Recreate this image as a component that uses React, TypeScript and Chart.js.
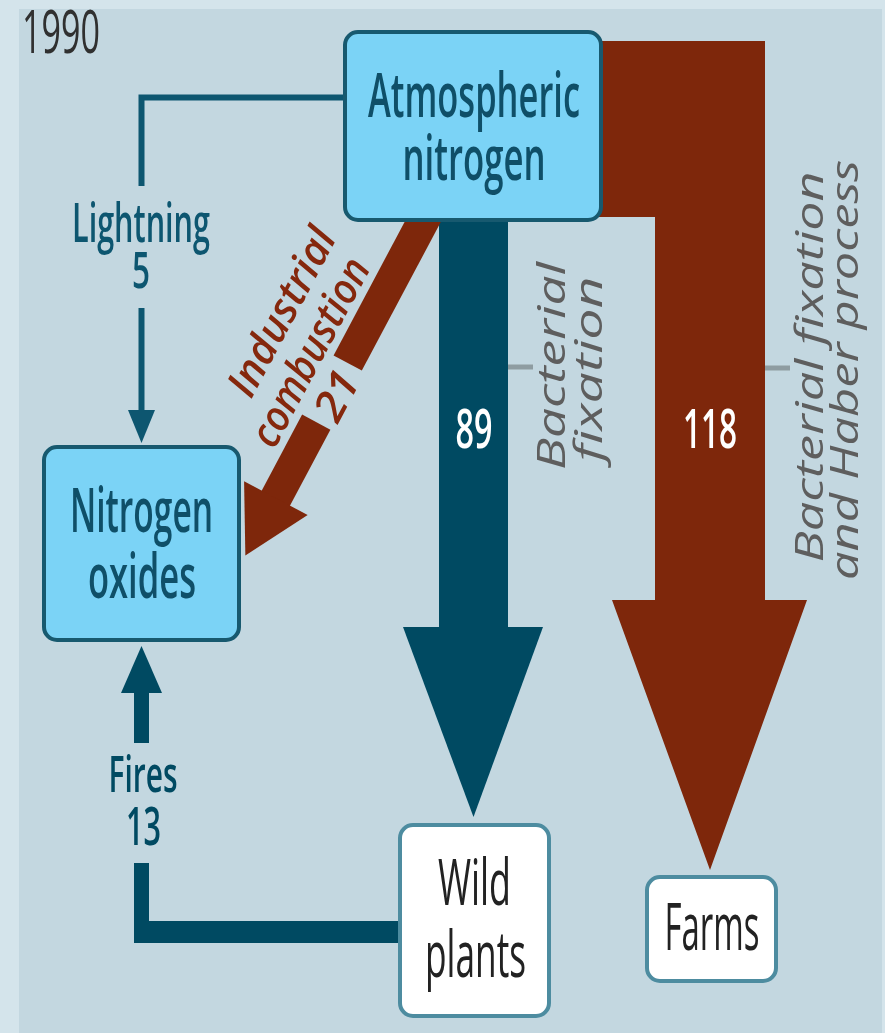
import { useEffect, useRef } from "react";
import { Chart, registerables } from "chart.js";

Chart.register(...registerables);

// ---------- data ----------
const YEAR = "1990";
const NODE_NAMES = ["Atmospheric nitrogen", "Nitrogen oxides", "Wild plants", "Farms"];
const NODE_LINES = [["Atmospheric", "nitrogen"], ["Nitrogen", "oxides"], ["Wild", "plants"], ["Farms"]];
const FLOW_NAMES = ["Lightning", "Industrial combustion", "Bacterial fixation", "Bacterial fixation and Haber process", "Fires"];
const FLOW_LINES = [["Lightning"], ["Industrial", "combustion"], ["Bacterial", "fixation"], ["Bacterial fixation", "and Haber process"], ["Fires"]];
const FLOW_VALUES = [5, 21, 89, 118, 13];

// ---------- layout (diagram units on hidden linear scales) ----------
const W = 885;
const H = 1033;
const FONT = '"Liberation Sans Narrow", "Open Sans", sans-serif';

const C = {
  bgOut: "#d4e4eb",
  bg: "#c3d7e0",
  teal: "#004a62",
  tealLine: "#0d5670",
  red: "#7e270b",
  boxFill: "#7bd3f6",
  boxStroke: "#17596f",
  whiteStroke: "#4d8ca0",
  tealText: "#0f4f68",
  grayText: "#5e5e5e",
  redText: "#85280d",
  tick: "#8e9ca1",
  dark: "#222222",
};

// boxes: x0,y0,x1,y1 ; text lines: [cx, baseline, size, width]
const BOXES = [
  { r: [343, 30, 603, 222], fill: C.boxFill, stroke: C.boxStroke, color: C.tealText, weight: 600, lines: [[474, 117, 62, 212], [474, 180, 62, 143]] },
  { r: [42, 445, 241, 642], fill: C.boxFill, stroke: C.boxStroke, color: C.tealText, weight: 600, lines: [[141.5, 532, 62, 143], [142, 598, 62, 108]] },
  { r: [398, 823, 551, 1018], fill: "#ffffff", stroke: C.whiteStroke, color: C.dark, weight: 500, lines: [[474.5, 905, 64, 73], [475.5, 977, 64, 101]] },
  { r: [645, 875, 778, 983], fill: "#ffffff", stroke: C.whiteStroke, color: C.dark, weight: 500, lines: [[712, 950, 65, 95]] },
];

const IND_ANGLE = (-62 * Math.PI) / 180;
const IND_ORIGIN = [420, 227];

type TextOpt = { color: string; weight?: number; italic?: boolean; rot?: number };

function App() {
  const ref = useRef<HTMLCanvasElement | null>(null);

  useEffect(() => {
    const canvas = ref.current;
    if (!canvas) return;

    const plugin = {
      id: "nitrogenDiagram",
      beforeDatasetsDraw(chart: any) {
        const ctx: CanvasRenderingContext2D = chart.ctx;
        const xs = chart.scales.x;
        const ys = chart.scales.y;
        const X = (v: number) => xs.getPixelForValue(v);
        const Y = (v: number) => ys.getPixelForValue(v);

        const poly = (pts: number[][], color: string) => {
          ctx.beginPath();
          pts.forEach(([a, b], i) => (i ? ctx.lineTo(X(a), Y(b)) : ctx.moveTo(X(a), Y(b))));
          ctx.closePath();
          ctx.fillStyle = color;
          ctx.fill();
        };
        const rect = (x0: number, y0: number, x1: number, y1: number, color: string) =>
          poly([[x0, y0], [x1, y0], [x1, y1], [x0, y1]], color);
        const line = (pts: number[][], color: string, lw: number) => {
          ctx.beginPath();
          pts.forEach(([a, b], i) => (i ? ctx.lineTo(X(a), Y(b)) : ctx.moveTo(X(a), Y(b))));
          ctx.strokeStyle = color;
          ctx.lineWidth = lw;
          ctx.lineCap = "butt";
          ctx.lineJoin = "miter";
          ctx.stroke();
        };
        const text = (s: string, x: number, y: number, size: number, width: number, o: TextOpt) => {
          ctx.save();
          ctx.font = `${o.italic ? "italic " : ""}${o.weight || 400} ${size}px ${FONT}`;
          const m = ctx.measureText(s).width || 1;
          ctx.translate(X(x), Y(y));
          if (o.rot) ctx.rotate(o.rot);
          ctx.scale(width / m, 1);
          ctx.textAlign = "center";
          ctx.textBaseline = "alphabetic";
          ctx.fillStyle = o.color;
          ctx.fillText(s, 0, 0);
          ctx.restore();
        };

        // background
        rect(0, 0, W, H, C.bgOut);
        rect(19, 9, 882, H, C.bg);

        // 118: bacterial fixation and Haber process -> farms
        poly(
          [[592, 41], [765, 41], [765, 600], [807, 600], [710, 870], [612, 600], [655, 600], [655, 217], [592, 217]],
          C.red
        );
        // 89: bacterial fixation -> wild plants
        rect(439, 215, 508, 628, C.teal);
        poly([[403, 627], [543, 627], [473.5, 817]], C.teal);

        // 21: industrial combustion (band along a tilted axis)
        const ux = -Math.cos(IND_ANGLE), uy = -Math.sin(IND_ANGLE);
        const nx = -Math.sin(IND_ANGLE), ny = Math.cos(IND_ANGLE);
        const P = (t: number, s: number) => [IND_ORIGIN[0] + t * ux + s * nx, IND_ORIGIN[1] + t * uy + s * ny];
        const hw = 16;
        poly([P(-140, -hw), P(154, -hw), P(154, hw), P(-140, hw)], C.red);
        poly([P(221, -hw), P(310, -hw), P(310, hw), P(221, hw)], C.red);
        poly([P(307, -36), P(372, 0), P(307, 36)], C.red);

        // 5: lightning
        line([[345, 97.5], [141.5, 97.5], [141.5, 186]], C.tealLine, 6);
        line([[141.5, 308], [141.5, 412]], C.tealLine, 6);
        poly([[128, 410], [155, 410], [141.5, 443]], C.tealLine);

        // 13: fires
        poly([[134, 863], [149, 863], [149, 921], [400, 921], [400, 943], [134, 943]], C.teal);
        rect(134, 690, 149, 743, C.teal);
        poly([[121, 693], [162, 693], [141.5, 646]], C.teal);

        // label ticks
        line([[508, 367], [533, 367]], C.tick, 5);
        line([[765, 368], [790, 368]], C.tick, 5);

        // boxes
        BOXES.forEach((b, i) => {
          const [x0, y0, x1, y1] = b.r;
          ctx.beginPath();
          ctx.roundRect(X(x0) + 2, Y(y0) + 2, X(x1) - X(x0) - 4, Y(y1) - Y(y0) - 4, 13);
          ctx.fillStyle = b.fill;
          ctx.fill();
          ctx.lineWidth = 4;
          ctx.strokeStyle = b.stroke;
          ctx.stroke();
          NODE_LINES[i].forEach((s, j) => {
            const [cx, by, size, w] = b.lines[j];
            text(s, cx, by, size, w, { color: b.color, weight: b.weight });
          });
        });

        // year
        text(YEAR, 61, 53, 60, 78, { color: "#303030", weight: 500 });

        // flow labels
        text(FLOW_LINES[0][0], 141, 242, 55, 138, { color: C.tealLine, weight: 600 });
        text(String(FLOW_VALUES[0]), 141, 288, 50, 18, { color: C.tealLine, weight: 600 });

        text(FLOW_LINES[4][0], 143, 792, 51, 69, { color: C.teal, weight: 600 });
        text(String(FLOW_VALUES[4]), 143.5, 845, 52, 35, { color: C.teal, weight: 600 });

        text(String(FLOW_VALUES[2]), 474, 448, 55, 37, { color: "#ffffff", weight: 600 });
        text(String(FLOW_VALUES[3]), 710, 448, 55, 54, { color: "#ffffff", weight: 600 });

        const v90 = -Math.PI / 2;
        text(FLOW_LINES[2][0], 565, 366, 39, 208, { color: C.grayText, italic: true, rot: v90 });
        text(FLOW_LINES[2][1], 602, 369, 39, 185, { color: C.grayText, italic: true, rot: v90 });
        text(FLOW_LINES[3][0], 823, 367, 39, 391, { color: C.grayText, italic: true, rot: v90 });
        text(FLOW_LINES[3][1], 858, 370, 39, 420, { color: C.grayText, italic: true, rot: v90 });

        // industrial combustion, written along the band
        const Xd = [Math.cos(IND_ANGLE), Math.sin(IND_ANGLE)];
        const Yd = [-Math.sin(IND_ANGLE), Math.cos(IND_ANGLE)];
        const TP = (tx: number, ty: number) => [IND_ORIGIN[0] + tx * Xd[0] + ty * Yd[0], IND_ORIGIN[1] + tx * Xd[1] + ty * Yd[1]];
        const indItems: [string, number, number, number][] = [
          [FLOW_LINES[1][0], -140, -68, 184],
          [FLOW_LINES[1][1], -162, -24, 207],
          [String(FLOW_VALUES[1]), -188, 20, 50],
        ];
        indItems.forEach(([s, tx, ty, w]) => {
          const [px, py] = TP(tx, ty);
          text(s, px, py, 42, w, { color: C.redText, weight: 600, italic: true, rot: IND_ANGLE });
        });
      },
    };

    const chart = new Chart(canvas, {
      type: "scatter",
      data: {
        datasets: [
          {
            label: NODE_NAMES.join(", ") + " / " + FLOW_NAMES.join(", "),
            data: [],
            pointRadius: 0,
          },
        ],
      },
      options: {
        animation: false,
        responsive: false,
        devicePixelRatio: 1,
        layout: { padding: 0 },
        events: [],
        scales: {
          x: { type: "linear", min: 0, max: W, display: false },
          y: { type: "linear", min: 0, max: H, reverse: true, display: false },
        },
        plugins: { legend: { display: false }, tooltip: { enabled: false }, title: { display: false } },
      },
      plugins: [plugin],
    });
    return () => chart.destroy();
  }, []);

  return (
    <div style={{ position: "absolute", left: 0, top: 0, width: W, height: H }}>
      <canvas ref={ref} width={W} height={H} style={{ width: W, height: H, display: "block" }} />
    </div>
  );
}

export default App;
